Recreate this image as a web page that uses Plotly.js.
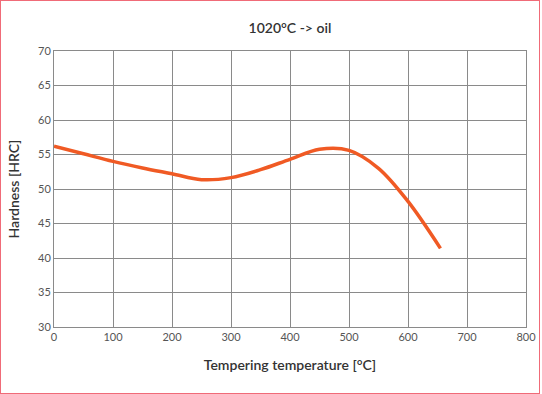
<!DOCTYPE html>
<html>
<head>
<meta charset="utf-8">
<script src="https://cdn.plot.ly/plotly-3.0.1.min.js"></script>
<style>
body{margin:0;padding:0;background:#fff;}
#wrap{position:relative;width:542px;height:394px;}
#chart{width:542px;height:394px;}
#frame{position:absolute;left:0;top:0;width:540px;height:394px;box-sizing:border-box;border:1px solid #f06b78;pointer-events:none;}
</style>
</head>
<body>
<div id="wrap"><div id="chart"></div><div id="frame"></div></div>
<script>
const temperature = [0, 50, 100, 150, 200, 250, 300, 350, 400, 450, 500, 550, 600, 655];
const hardness = [56.2, 55.1, 54.0, 53.05, 52.2, 51.35, 51.65, 52.8, 54.3, 55.75, 55.6, 53.0, 48.2, 41.4];
const xTicks = [0, 100, 200, 300, 400, 500, 600, 700, 800];
const yTicks = [30, 35, 40, 45, 50, 55, 60, 65, 70];

const fontFam = 'Lato, "Open Sans", sans-serif';
Plotly.newPlot('chart', [{
  x: temperature, y: hardness, type: 'scatter', mode: 'lines',
  line: {color: '#f05a24', width: 3.5, shape: 'spline', smoothing: 1},
  hoverinfo: 'skip'
}], {
  width: 542, height: 394,
  margin: {l: 54, r: 16, t: 51, b: 67},
  paper_bgcolor: '#fff', plot_bgcolor: '#fff',
  showlegend: false,
  title: {text: '1020°C -> oil', x: 0.535, xanchor: 'center', y: 0.928, yanchor: 'middle',
    font: {family: fontFam, size: 14, color: '#333', weight: 600}},
  xaxis: {range: [0, 800], tickvals: xTicks, ticktext: xTicks.map(String),
    showgrid: true, gridcolor: '#8a8a8a', gridwidth: 1, zeroline: false,
    showline: true, linecolor: '#8a8a8a', linewidth: 1, mirror: true,
    ticks: '', tickfont: {family: fontFam, size: 11, color: '#555'},
    title: {text: 'Tempering temperature [°C]', standoff: 17, font: {family: fontFam, size: 14, color: '#333', weight: 600}}},
  yaxis: {range: [30, 70], tickvals: yTicks, ticktext: yTicks.map(String),
    showgrid: true, gridcolor: '#8a8a8a', gridwidth: 1, zeroline: false,
    showline: true, linecolor: '#8a8a8a', linewidth: 1, mirror: true,
    ticks: '', tickfont: {family: fontFam, size: 11, color: '#555'},
    title: {text: 'Hardness [HRC]', standoff: 15, font: {family: fontFam, size: 14, color: '#333', weight: 600}}}
}, {displayModeBar: false, staticPlot: true});
</script>
</body>
</html>
